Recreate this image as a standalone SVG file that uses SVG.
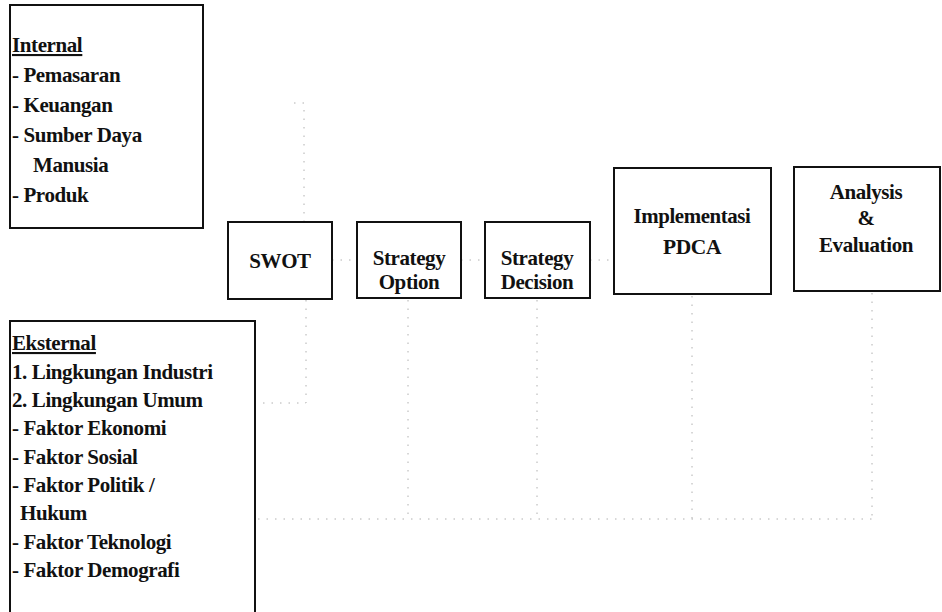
<svg xmlns="http://www.w3.org/2000/svg" width="942" height="612" viewBox="0 0 942 612">
<style>
.box{fill:#fff;stroke:#111;stroke-width:2}
.t{font-family:'Liberation Serif','DejaVu Serif',serif;font-weight:bold;font-size:21px;fill:#111;letter-spacing:-0.4px}
.c{text-anchor:middle}
.u{text-decoration:underline}
.con{fill:none;stroke:#b0b0b0;stroke-width:1;stroke-dasharray:1.5 7}
</style>
<rect width="942" height="612" fill="#fff"/>
<g id="connectors">
<path class="con" d="M294,103 H304 V222"/>
<path class="con" d="M306,300 V403 H257"/>
<path class="con" d="M332,260 H357"/>
<path class="con" d="M461,260 H485"/>
<path class="con" d="M590,260 H614"/>
<path class="con" d="M408,300 V519"/>
<path class="con" d="M537,300 V519"/>
<path class="con" d="M692,296 V519"/>
<path class="con" d="M872,293 V519"/>
<path class="con" d="M258,519 H872"/>
</g>
<g id="internal">
<rect class="box" x="10" y="5" width="193" height="223"/>
<text class="t" font-size="22"><tspan class="u" x="12" y="52">Internal</tspan><tspan x="12" y="82">- Pemasaran</tspan><tspan x="12" y="112">- Keuangan</tspan><tspan x="12" y="142">- Sumber Daya</tspan><tspan x="33" y="172">Manusia</tspan><tspan x="12" y="202">- Produk</tspan></text>
</g>
<g id="eksternal">
<rect class="box" x="10" y="321" width="245" height="300"/>
<text class="t"><tspan class="u" x="12" y="350">Eksternal</tspan><tspan x="12" y="379">1. Lingkungan Industri</tspan><tspan x="12" y="407">2. Lingkungan Umum</tspan><tspan x="12" y="435">- Faktor Ekonomi</tspan><tspan x="12" y="464">- Faktor Sosial</tspan><tspan x="12" y="492">- Faktor Politik /</tspan><tspan x="20" y="520">Hukum</tspan><tspan x="12" y="549">- Faktor Teknologi</tspan><tspan x="12" y="577">- Faktor Demografi</tspan></text>
</g>
<g id="swot">
<rect class="box" x="228" y="222" width="104" height="77"/>
<text class="t c" x="280" y="268">SWOT</text>
</g>
<g id="strategy-option">
<rect class="box" x="357" y="222" width="104" height="76"/>
<text class="t c"><tspan x="409" y="265">Strategy</tspan><tspan x="409" y="289">Option</tspan></text>
</g>
<g id="strategy-decision">
<rect class="box" x="485" y="222" width="105" height="76"/>
<text class="t c"><tspan x="537" y="265">Strategy</tspan><tspan x="537" y="289">Decision</tspan></text>
</g>
<g id="implementasi">
<rect class="box" x="614" y="168" width="157" height="126"/>
<text class="t c" font-size="23" x="692" y="223" textLength="117" lengthAdjust="spacingAndGlyphs">Implementasi</text>
<text class="t c" font-size="23" x="692" y="254" textLength="58" lengthAdjust="spacingAndGlyphs">PDCA</text>
</g>
<g id="analysis">
<rect class="box" x="794" y="167" width="146" height="124"/>
<text class="t c"><tspan x="866" y="199">Analysis</tspan><tspan x="866" y="225">&amp;</tspan><tspan x="866" y="252">Evaluation</tspan></text>
</g>
</svg>
